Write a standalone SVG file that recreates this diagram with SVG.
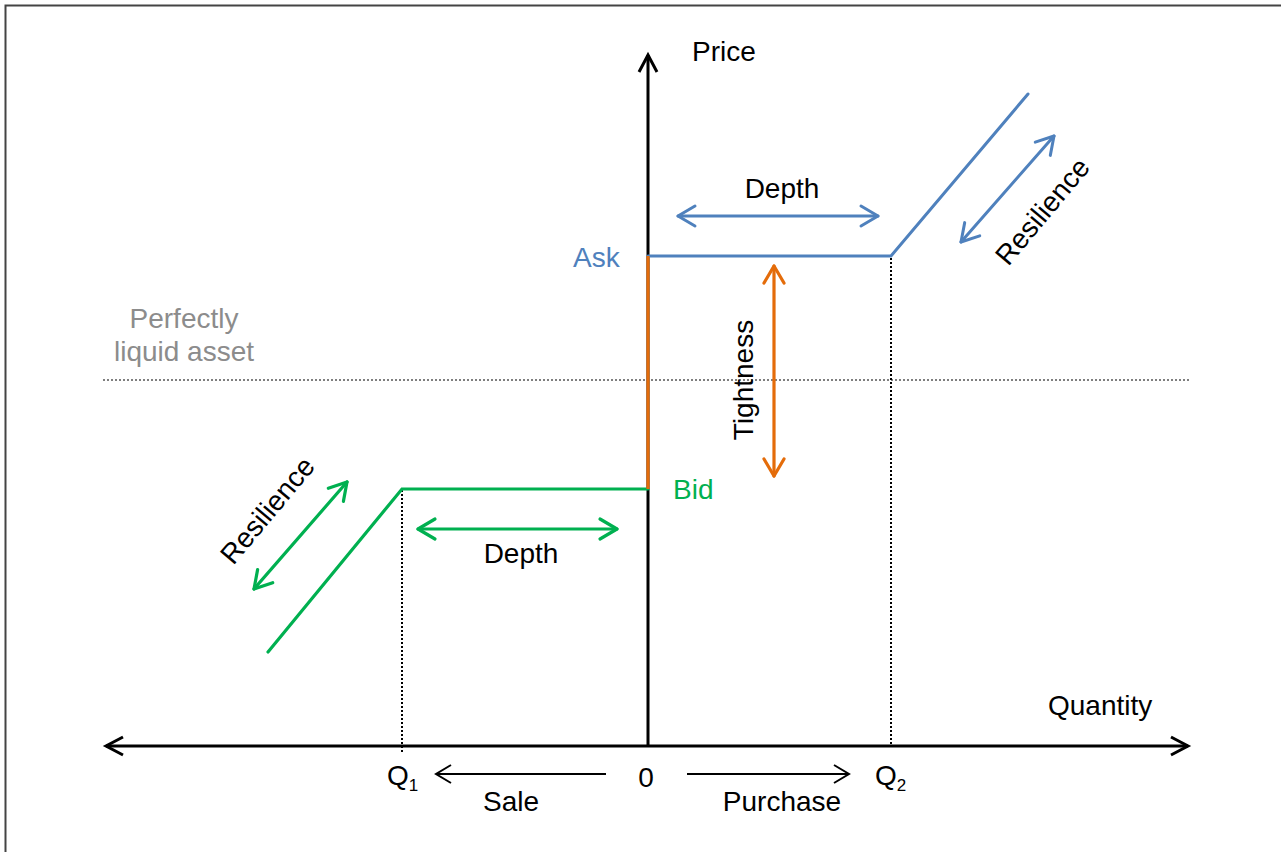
<svg xmlns="http://www.w3.org/2000/svg" width="1281" height="852" viewBox="0 0 1281 852">
  <style>
    text { font-family: "Liberation Sans", Arial, sans-serif; font-size: 28px; fill: #000; }
    .gray { fill: #8c8c8c; }
    .blue-t { fill: #4f81bd; }
    .green-t { fill: #00b050; }
    .axis { stroke: #000; stroke-width: 3; fill: none; }
    .thin { stroke: #000; stroke-width: 2; fill: none; }
    .blue { stroke: #4f81bd; stroke-width: 3; fill: none; stroke-linecap: round; }
    .green { stroke: #00b050; stroke-width: 3.2; fill: none; stroke-linecap: round; }
    .orange { stroke: #e46c0a; stroke-width: 3.2; fill: none; }
    .guide { stroke: #000; stroke-width: 2; stroke-dasharray: 2 2; fill: none; }
    .liquid { stroke: #7f7f7f; stroke-width: 2; stroke-dasharray: 2 2; fill: none; }
  </style>
  <defs>
    <marker id="ah-black" markerUnits="userSpaceOnUse" orient="auto-start-reverse" refX="0" refY="0" markerWidth="40" markerHeight="40" overflow="visible">
      <path d="M-17,-9 L0,0 L-17,9" fill="none" stroke="#000" stroke-width="3" stroke-linejoin="miter"/>
    </marker>
    <marker id="ah-thin" markerUnits="userSpaceOnUse" orient="auto-start-reverse" refX="0" refY="0" markerWidth="40" markerHeight="40" overflow="visible">
      <path d="M-15,-9 L0,0 L-15,9" fill="none" stroke="#000" stroke-width="2"/>
    </marker>
    <marker id="ah-blue" markerUnits="userSpaceOnUse" orient="auto-start-reverse" refX="0" refY="0" markerWidth="40" markerHeight="40" overflow="visible">
      <path d="M-17,-10 L0,0 L-17,10" fill="none" stroke="#4f81bd" stroke-width="3" stroke-linecap="round" stroke-linejoin="round"/>
    </marker>
    <marker id="ah-green" markerUnits="userSpaceOnUse" orient="auto-start-reverse" refX="0" refY="0" markerWidth="40" markerHeight="40" overflow="visible">
      <path d="M-17,-10 L0,0 L-17,10" fill="none" stroke="#00b050" stroke-width="3.2" stroke-linecap="round" stroke-linejoin="round"/>
    </marker>
    <marker id="ah-orange" markerUnits="userSpaceOnUse" orient="auto-start-reverse" refX="0" refY="0" markerWidth="40" markerHeight="40" overflow="visible">
      <path d="M-17,-10 L0,0 L-17,10" fill="none" stroke="#e46c0a" stroke-width="3.2" stroke-linecap="round" stroke-linejoin="round"/>
    </marker>
  </defs>

  <rect width="1281" height="852" fill="#fff"/>
  <!-- frame -->
  <path d="M5.5,852 V5.5 H1281" fill="none" stroke="#444" stroke-width="2"/>

  <!-- guide lines -->
  <g id="guides">
    <line class="liquid" x1="103" y1="380" x2="1189" y2="380"/>
    <line class="guide" x1="402" y1="490" x2="402" y2="752"/>
    <line class="guide" x1="891" y1="258" x2="891" y2="746"/>
  </g>

  <!-- axes -->
  <g id="axes">
    <line class="axis" x1="106" y1="746" x2="1188" y2="746" marker-start="url(#ah-black)" marker-end="url(#ah-black)"/>
    <line class="axis" x1="648" y1="746" x2="648" y2="55" marker-end="url(#ah-black)"/>
  </g>

  <!-- price schedules -->
  <g id="ask-curve">
    <polyline class="blue" points="648,256 891,256 1028,94" stroke-linejoin="miter"/>
  </g>
  <g id="bid-curve">
    <polyline class="green" points="648,489 402,489 268,652" stroke-linejoin="miter"/>
  </g>
  <g id="spread">
    <line class="orange" x1="648" y1="256" x2="648" y2="489"/>
  </g>

  <!-- measure arrows -->
  <g id="connectors">
    <line class="blue" x1="678" y1="216" x2="878" y2="216" marker-start="url(#ah-blue)" marker-end="url(#ah-blue)"/>
    <line class="blue" x1="961" y1="242" x2="1054" y2="136" marker-start="url(#ah-blue)" marker-end="url(#ah-blue)"/>
    <line class="green" x1="418" y1="529" x2="617" y2="529" marker-start="url(#ah-green)" marker-end="url(#ah-green)"/>
    <line class="green" x1="254" y1="589" x2="347" y2="482" marker-start="url(#ah-green)" marker-end="url(#ah-green)"/>
    <line class="orange" x1="774" y1="266" x2="774" y2="476" stroke-linecap="round" marker-start="url(#ah-orange)" marker-end="url(#ah-orange)"/>
    <line class="thin" x1="606" y1="774" x2="436" y2="774" marker-end="url(#ah-thin)"/>
    <line class="thin" x1="687" y1="774" x2="849" y2="774" marker-end="url(#ah-thin)"/>
  </g>

  <!-- labels -->
  <g id="label-price"><text x="692" y="61">Price</text></g>
  <g id="label-quantity"><text x="1048" y="715">Quantity</text></g>
  <g id="label-ask"><text class="blue-t" x="573" y="267">Ask</text></g>
  <g id="label-bid"><text class="green-t" x="673" y="499">Bid</text></g>
  <g id="label-liquid">
    <text class="gray" x="184" y="328" text-anchor="middle">Perfectly</text>
    <text class="gray" x="184" y="361" text-anchor="middle">liquid asset</text>
  </g>
  <g id="label-depth-ask"><text x="782" y="198" text-anchor="middle">Depth</text></g>
  <g id="label-depth-bid"><text x="521" y="563" text-anchor="middle">Depth</text></g>
  <g id="label-tightness"><text transform="translate(743,380) rotate(-90)" y="10" text-anchor="middle">Tightness</text></g>
  <g id="label-resilience-ask"><text transform="translate(1042,211) rotate(-50)" y="10" text-anchor="middle">Resilience</text></g>
  <g id="label-resilience-bid"><text transform="translate(267,510) rotate(-50)" y="10" text-anchor="middle">Resilience</text></g>
  <g id="label-q1"><text x="387" y="785">Q<tspan font-size="17" dy="6">1</tspan></text></g>
  <g id="label-zero"><text x="646" y="787" text-anchor="middle">0</text></g>
  <g id="label-q2"><text x="875" y="785">Q<tspan font-size="17" dy="6">2</tspan></text></g>
  <g id="label-sale"><text x="511" y="811" text-anchor="middle">Sale</text></g>
  <g id="label-purchase"><text x="782" y="811" text-anchor="middle">Purchase</text></g>
</svg>
